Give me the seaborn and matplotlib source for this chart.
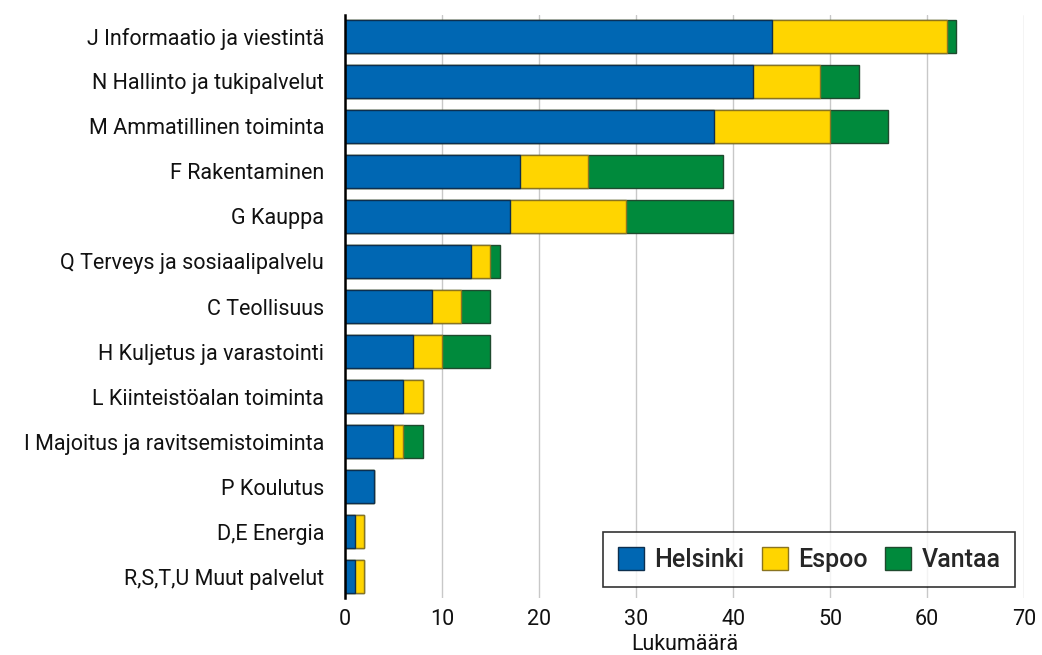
import pandas as pd
import seaborn as sns
import matplotlib.pyplot as plt

# Data
categories = [
    "J Informaatio ja viestintä",
    "N Hallinto ja tukipalvelut",
    "M Ammatillinen toiminta",
    "F Rakentaminen",
    "G Kauppa",
    "Q Terveys ja sosiaalipalvelu",
    "C Teollisuus",
    "H Kuljetus ja varastointi",
    "L Kiinteistöalan toiminta",
    "I Majoitus ja ravitsemistoiminta",
    "P Koulutus",
    "D,E Energia",
    "R,S,T,U Muut palvelut",
]
helsinki = [44, 42, 38, 18, 17, 13, 9, 7, 6, 5, 3, 1, 1]
espoo = [18, 7, 12, 7, 12, 2, 3, 3, 2, 1, 0, 1, 1]
vantaa = [1, 4, 6, 14, 11, 1, 3, 5, 0, 2, 0, 0, 0]

colors = {"Helsinki": "#0067b3", "Espoo": "#ffd500", "Vantaa": "#008a3c"}
edges = {"Helsinki": "#0d2f4f", "Espoo": "#8a7420", "Vantaa": "#1f4a2e"}

df = pd.DataFrame({"Toimiala": categories, "Helsinki": helsinki,
                   "Espoo": espoo, "Vantaa": vantaa})
df["he"] = df["Helsinki"] + df["Espoo"]
df["total"] = df["he"] + df["Vantaa"]

sns.set_theme(style="white")
plt.rcParams["font.family"] = ["Roboto", "DejaVu Sans"]

fig = plt.figure(figsize=(10.42, 6.55), dpi=100)
ax = fig.add_axes([0.331, 0.087, 0.652, 0.890])

# stacked bars drawn as layered cumulative totals
layers = [("total", "Vantaa"), ("he", "Espoo"), ("Helsinki", "Helsinki")]
for col, name in layers:
    sns.barplot(data=df, x=col, y="Toimiala", orient="h", ax=ax,
                color=colors[name], edgecolor=edges[name], linewidth=1.0,
                width=0.73, saturation=1, label=name)

ax.set_xlim(0, 70)
ax.set_ylim(12.47, -0.47)
ax.set_xticks(range(0, 71, 10))
ax.xaxis.grid(True, color="#c8c8c8", linewidth=1)
ax.set_axisbelow(True)
for s in ["top", "right", "bottom"]:
    ax.spines[s].set_visible(False)
ax.spines["left"].set_color("black")
ax.spines["left"].set_linewidth(1.8)
ax.tick_params(axis="both", labelsize=15.5, colors="#111111", length=0)
ax.tick_params(axis="y", pad=15)
ax.tick_params(axis="x", pad=8)
ax.set_ylabel("")
ax.set_xlabel("Lukumäärä", fontsize=15.5, color="#111111", labelpad=3)

handles, labels = ax.get_legend_handles_labels()
order = ["Helsinki", "Espoo", "Vantaa"]
hmap = dict(zip(labels, handles))
leg = ax.legend([hmap[k] for k in order], order, loc="lower right",
                bbox_to_anchor=(0.987, 0.019), borderaxespad=0, ncol=3,
                prop={"size": 18, "weight": "medium"},
                frameon=True, fancybox=False, edgecolor="black",
                handlelength=1.05, handleheight=1.05, handletextpad=0.4,
                columnspacing=0.7, borderpad=0.6)
leg.get_frame().set_linewidth(1.2)

fig.savefig("out.png", dpi=100)
